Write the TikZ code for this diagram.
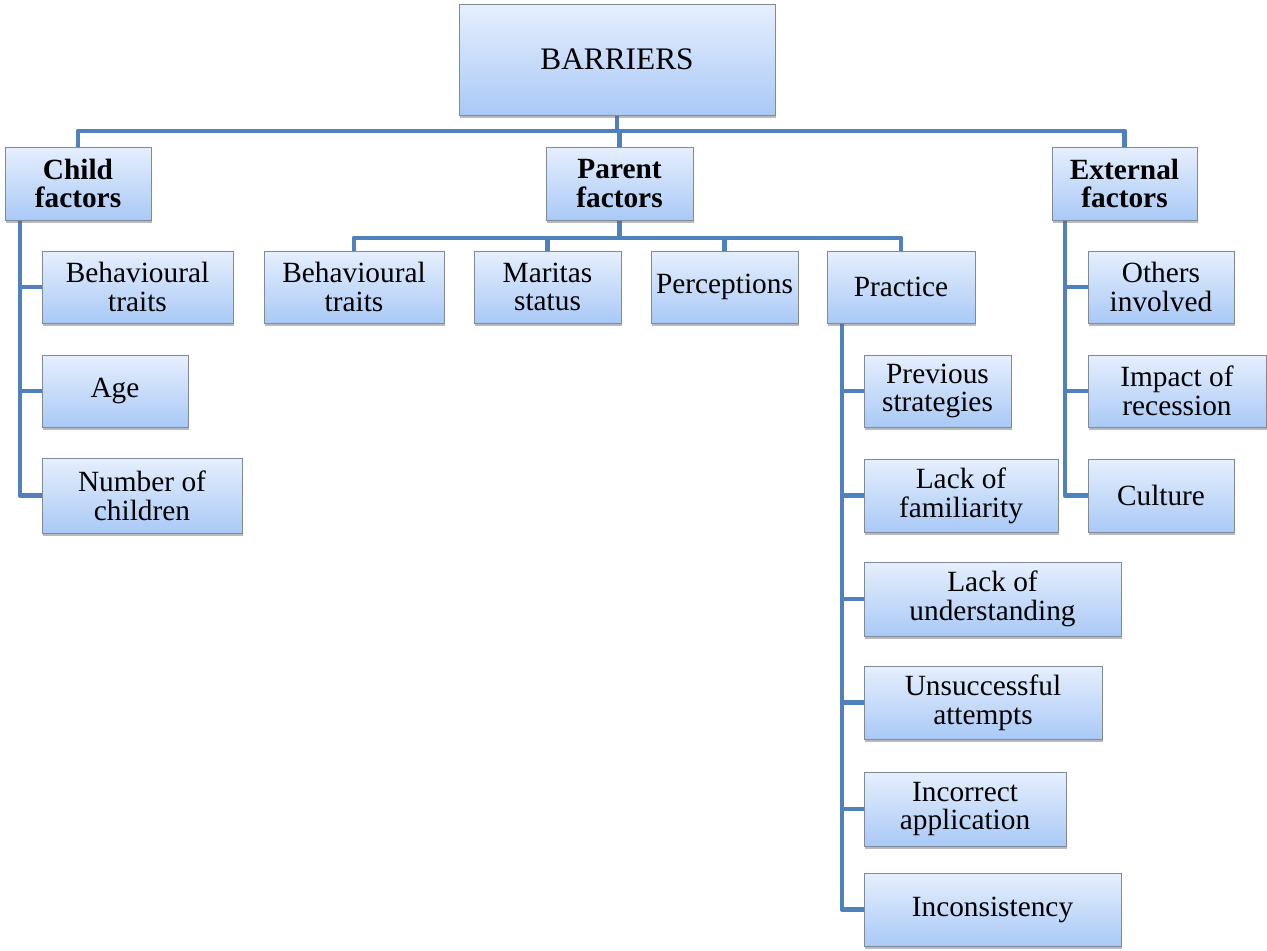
\documentclass[tikz,border=0pt]{standalone}
\usepackage{fontspec}
\setmainfont{Liberation Serif}
\usetikzlibrary{shadows,backgrounds}

\definecolor{boxtop}{HTML}{E6EFFD}
\definecolor{boxbot}{HTML}{A9C9F6}
\definecolor{boxline}{HTML}{7F8B9A}
\definecolor{linkblue}{HTML}{4F81BD}

% \bx[options]{x1}{y1}{x2}{y2}{name}{text}: a box given by its corners (px)
\newcommand\bx[7][]{%
  \node[box,#1,minimum width={(#4-#2)*0.75pt},minimum height={(#5-#3)*0.75pt}]
    (#6) at ({(#2+#4)/2},{(#3+#5)/2}) {#7};}

\tikzset{
  box/.style={draw=boxline, line width=0.6pt, top color=boxtop, bottom color=boxbot,
    drop shadow={shadow xshift=1pt, shadow yshift=-2pt, opacity=0.45, fill=black!60},
    align=center, inner sep=0pt, font=\fontsize{22}{21.5}\selectfont},
  head/.style={font=\fontsize{22}{21.5}\selectfont\bfseries},
  link/.style={draw=linkblue, line width=3.7pt, line join=round, line cap=butt},
}

\begin{document}
\begin{tikzpicture}[x=0.75pt,y=-0.75pt]
\useasboundingbox (0,0) rectangle (1267,950);

% top box
\bx[font=\fontsize{23.5}{24}\selectfont]{459}{4}{775}{115}{barriers}{BARRIERS}

% three factor groups
\bx[head]{5}{147}{151}{220}{child}{Child\\factors}
\bx[head]{546}{147}{693}{220}{parent}{Parent\\factors}
\bx[head]{1052}{147}{1197}{220}{ext}{External\\factors}

% child factors
\bx{42}{251}{233}{323}{c1}{Behavioural\\traits}
\bx{42}{355}{188}{427}{c2}{Age}
\bx{42}{458}{242}{533}{c3}{Number of\\children}

% parent factors
\bx{264}{251}{444}{323}{pa1}{Behavioural\\traits}
\bx{474}{251}{621}{323}{pa2}{Maritas\\status}
\bx{651}{251}{798}{323}{pa3}{Perceptions}
\bx{827}{251}{975}{323}{pa4}{Practice}

% practice
\bx{864}{355}{1011}{427}{p1}{Previous\\strategies}
\bx{864}{459}{1058}{532}{p2}{Lack of\\familiarity}
\bx{864}{562}{1121}{636}{p3}{Lack of\\understanding}
\bx{864}{666}{1102}{739}{p4}{Unsuccessful\\attempts}
\bx{864}{772}{1066}{846}{p5}{Incorrect\\application}
\bx{864}{873}{1121}{946}{p6}{Inconsistency}

% external factors
\bx{1088}{251}{1234}{323}{e1}{Others\\involved}
\bx{1088}{355}{1266}{427}{e2}{Impact of\\recession}
\bx{1088}{459}{1234}{532}{e3}{Culture}

% bars and spines
\coordinate (mainbar) at (619,131);
\coordinate (parentbar) at (620,238);
\coordinate (cspine) at (20,220);
\coordinate (pspine) at (842,323);
\coordinate (espine) at (1065,220);

\begin{scope}[on background layer]
  \draw[link] (barriers.south) -- (barriers.south |- mainbar);
  \draw[link] (child.north) |- (ext.north |- mainbar) -- (ext.north);
  \draw[link] (parent.north) -- (parent.north |- mainbar);

  \draw[link] (parent.south) -- (parent.south |- parentbar);
  \draw[link] (pa1.north) |- (pa4.north |- parentbar) -- (pa4.north);
  \draw[link] (pa2.north) -- (pa2.north |- parentbar);
  \draw[link] (pa3.north) -- (pa3.north |- parentbar);

  \draw[link] (cspine) |- (c3.west);
  \foreach \n in {c1,c2} \draw[link] (cspine |- \n.west) -- (\n.west);

  \draw[link] (pspine) |- (p6.west);
  \foreach \n in {p1,p2,p3,p4,p5} \draw[link] (pspine |- \n.west) -- (\n.west);

  \draw[link] (espine) |- (e3.west);
  \foreach \n in {e1,e2} \draw[link] (espine |- \n.west) -- (\n.west);
\end{scope}
\end{tikzpicture}
\end{document}
